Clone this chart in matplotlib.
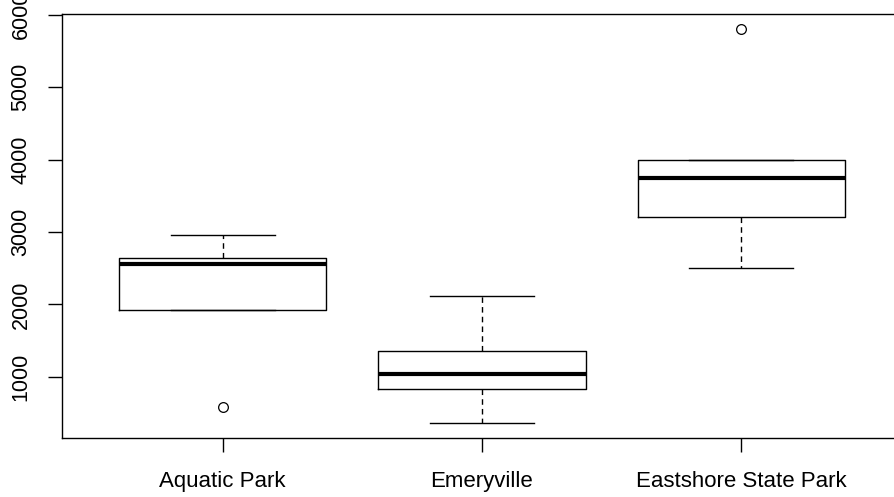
import matplotlib.pyplot as plt

plt.rcParams['font.family'] = ['Liberation Sans', 'DejaVu Sans']

# Data (five-number summaries + outliers)
sites = ['Aquatic Park', 'Emeryville', 'Eastshore State Park']
whislo = [1925, 365, 2500]
q1 = [1925, 830, 3210]
med = [2565, 1040, 3740]
q3 = [2645, 1360, 4000]
whishi = [2960, 2120, 4000]
fliers = [[585], [], [5800]]

stats = []
for i, name in enumerate(sites):
    stats.append(dict(label=name, whislo=whislo[i], q1=q1[i], med=med[i],
                      q3=q3[i], whishi=whishi[i], fliers=fliers[i]))

fig = plt.figure(figsize=(8.94, 4.97), dpi=100)
ax = fig.add_axes([62 / 894, 1 - 438 / 497, 840 / 894, 424 / 497])

ax.bxp(stats, positions=[1, 2, 3], widths=0.8,
       boxprops=dict(color='black', linewidth=1),
       medianprops=dict(color='black', linewidth=3, solid_capstyle='butt'),
       whiskerprops=dict(color='black', linewidth=1, linestyle=(0, (4, 3))),
       capprops=dict(color='black', linewidth=1),
       capwidths=0.4,
       flierprops=dict(marker='o', markerfacecolor='none', markeredgecolor='black',
                       markersize=7, markeredgewidth=0.9))

ax.set_xlim(0.38, 3.62)
ax.set_ylim(158, 6008)
ax.set_yticks([1000, 2000, 3000, 4000, 5000, 6000])
ax.set_yticklabels(['1000', '2000', '3000', '4000', '5000', '6000'],
                   rotation=90, va='center', fontsize=15.5)
ax.tick_params(axis='y', length=10, width=1, pad=12)
ax.tick_params(axis='x', length=10, width=1, pad=14, labelsize=16)
for s in ax.spines.values():
    s.set_linewidth(1)

fig.savefig('out.png', dpi=100)
